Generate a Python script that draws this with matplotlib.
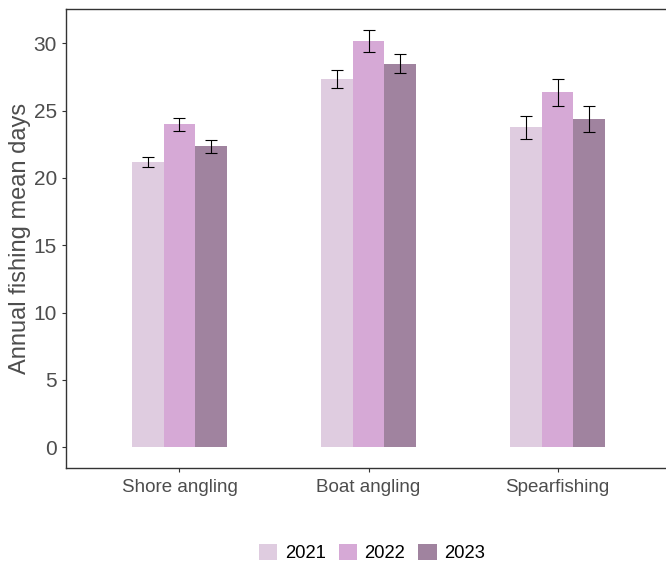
import numpy as np
import matplotlib
matplotlib.use("Agg")
import matplotlib.pyplot as plt
from matplotlib.patches import Patch

plt.rcParams["font.family"] = ["Liberation Sans", "DejaVu Sans"]

# mean annual fishing days by activity and year, with error bar half-widths
activities = ["Shore angling", "Boat angling", "Spearfishing"]
years = ["2021", "2022", "2023"]
mean_days = {
    "2021": [21.2, 27.35, 23.75],
    "2022": [24.0, 30.15, 26.35],
    "2023": [22.35, 28.5, 24.35],
}
err_days = {
    "2021": [0.37, 0.7, 0.84],
    "2022": [0.48, 0.82, 1.03],
    "2023": [0.5, 0.7, 0.97],
}
colors = {"2021": "#DFCCE0", "2022": "#D6A9D6", "2023": "#A0839F"}

fig = plt.figure(figsize=(6.66, 5.66), dpi=100)
ax = fig.add_axes([66 / 666, 1 - 468 / 566, 605 / 666, 459 / 566])

x = np.arange(1, len(activities) + 1)
w = 0.5 / 3
for i, yr in enumerate(years):
    pos = x + (i - 1) * w
    ax.bar(pos, mean_days[yr], width=w, color=colors[yr], linewidth=0)
    ax.errorbar(pos, mean_days[yr], yerr=err_days[yr], fmt="none",
                ecolor="black", elinewidth=0.8, capsize=4.5, capthick=0.8)

ax.set_xlim(0.4, 3.6)
ax.set_ylim(-1.55, 32.55)
ax.set_xticks(x)
ax.set_xticklabels(activities, fontsize=13.5, color="#4D4D4D")
ax.set_yticks(range(0, 31, 5))
ax.tick_params(axis="y", labelsize=15, labelcolor="#4D4D4D", length=3,
               color="#333333", width=0.8)
ax.tick_params(axis="x", length=3, color="#333333", width=0.8, pad=5)
ax.set_ylabel("Annual fishing mean days", fontsize=17, color="#4D4D4D",
              labelpad=2)
for s in ax.spines.values():
    s.set_color("#333333")
    s.set_linewidth(1.0)
ax.spines["right"].set_visible(False)

handles = [Patch(facecolor=colors[yr], edgecolor="none", label=yr) for yr in years]
fig.legend(handles=handles, loc="center", bbox_to_anchor=(372 / 666, 1 - 553 / 566),
           ncol=3, frameon=False, fontsize=13.3, handlelength=1.0, handleheight=1.0,
           handletextpad=0.4, columnspacing=0.7)

fig.savefig("out.png", dpi=100)
